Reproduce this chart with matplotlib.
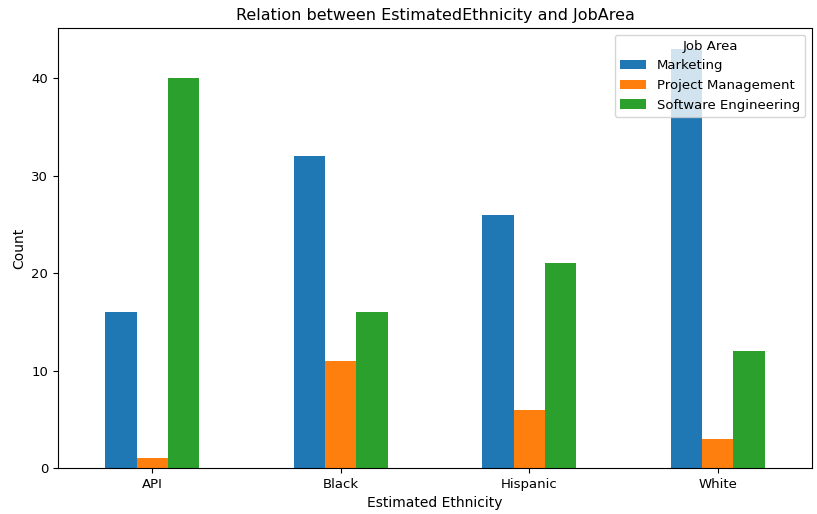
import matplotlib
matplotlib.use("Agg")
import matplotlib.pyplot as plt
import numpy as np

# counts
ethnicities = ["API", "Black", "Hispanic", "White"]
job_areas = ["Marketing", "Project Management", "Software Engineering"]
marketing = [16, 32, 26, 43]
project_mgmt = [1, 11, 6, 3]
software_eng = [40, 16, 21, 12]

series = [marketing, project_mgmt, software_eng]
colors = ["#1f77b4", "#ff7f0e", "#2ca02c"]

fig = plt.figure(figsize=(8.17, 5.14), dpi=100)
ax = fig.add_axes([58 / 817, 46 / 514, 754 / 817, 440 / 514])

x = np.arange(len(ethnicities))
width = 0.5 / len(series)
for i, (vals, name) in enumerate(zip(series, job_areas)):
    ax.bar(x + (i - 1) * width, vals, width, color=colors[i], label=name)

ax.set_xlim(-0.5, len(ethnicities) - 0.5)
ax.set_ylim(0, max(max(s) for s in series) * 1.05)
ax.set_xticks(x)
ax.set_xticklabels(ethnicities, fontsize=9.5)
ax.tick_params(axis="y", labelsize=9.5)
ax.set_yticks([0, 10, 20, 30, 40])
ax.set_xlabel("Estimated Ethnicity", fontsize=10)
ax.set_ylabel("Count", fontsize=10)
ax.set_title("Relation between EstimatedEthnicity and JobArea", fontsize=11.5)
ax.legend(title="Job Area", loc="upper right", fontsize=9.5, title_fontsize=9.5)

fig.savefig("out.png", dpi=100)
